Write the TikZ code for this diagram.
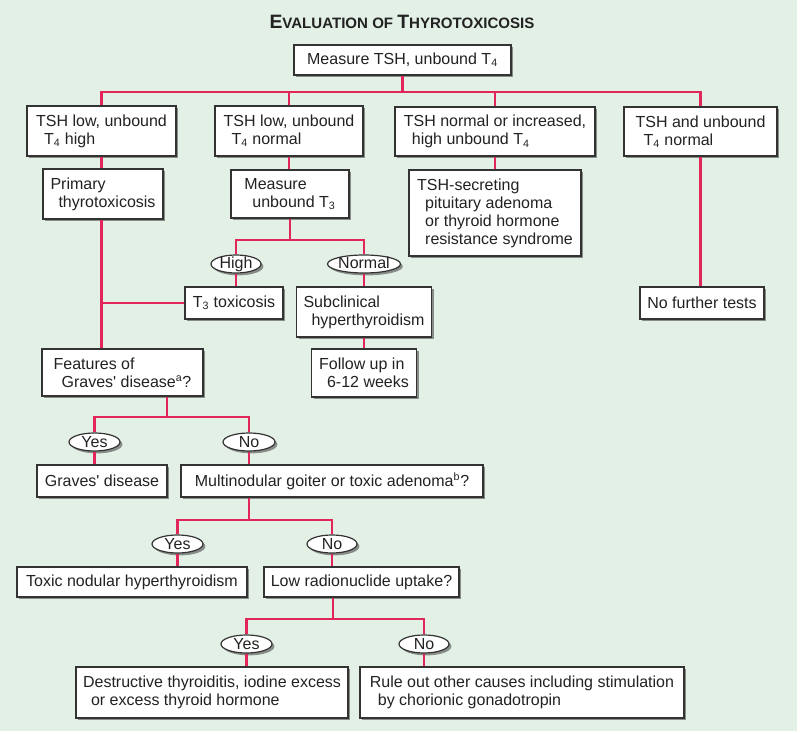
\documentclass[tikz,border=0pt]{standalone}
\usepackage{fontspec}
\setmainfont{Liberation Sans}
\usetikzlibrary{shapes.geometric,shadows,calc}
\definecolor{bg}{HTML}{E2F0E5}
\definecolor{ln}{HTML}{E2265A}
\definecolor{tx}{HTML}{222222}
\definecolor{bd}{HTML}{333333}
\newcommand{\ind}{\hspace*{6pt}}
\newcommand{\apo}{\textquotesingle}
\begin{document}
\begin{tikzpicture}[x=0.75pt,y=-0.75pt,
  font=\fontsize{12}{13.5}\selectfont,
  shd/.style={drop shadow={shadow xshift=1.8pt,shadow yshift=-1.8pt,fill=black!70,opacity=0.6}},
  box/.style={draw=bd,fill=white,line width=0.9pt,text=tx,align=left,inner sep=0pt,shd},
  sz/.style 2 args={minimum width=#1*0.75pt,minimum height=#2*0.75pt},
  ov/.style={ellipse,draw=bd,fill=white,line width=0.9pt,inner sep=0pt,text=tx,
    text height=8.5pt,text depth=1pt,minimum height=18*0.75pt,shd},
  conn/.style={draw=ln,line width=1.6pt}]
\useasboundingbox (0,0) rectangle (800,734);
\fill[white] (0,0) rectangle (800,734);
\fill[bg] (0,0) rectangle (797,731);

\node[text=tx,font=\bfseries] (title) at (402,22)
  {\fontsize{14.5}{15}\selectfont E\fontsize{11.3}{15}\selectfont VALUATION OF \fontsize{14.5}{15}\selectfont T\fontsize{11.3}{15}\selectfont HYROTOXICOSIS};

% nodes
\node[box,sz={217}{30}] (m0) at (402.5,60) {Measure TSH, unbound T\textsubscript{4}};
\node[box,sz={149}{50}] (r1a) at (101.5,131) {TSH low, unbound\\\ind T\textsubscript{4} high};
\node[box,sz={148}{50}] (r1b) at (289,131) {TSH low, unbound\\\ind T\textsubscript{4} normal};
\node[box,sz={200}{49}] (r1c) at (495,131.5) {TSH normal or increased,\\\ind high unbound T\textsubscript{4}};
\node[box,sz={153}{49}] (r1d) at (700.5,131.5) {TSH and unbound\\\ind T\textsubscript{4} normal};

\node[box,sz={120}{50}] (prim) at (103,194) {Primary\\\ind thyrotoxicosis};
\node[box,sz={118}{48}] (meas3) at (290,194) {Measure\\\ind unbound T\textsubscript{3}};
\node[box,sz={172}{86}] (tshsec) at (495,213) {TSH-secreting\\\ind pituitary adenoma\\\ind or thyroid hormone\\\ind resistance syndrome};
\node[box,sz={124}{32}] (nofur) at (702,303) {No further tests};

\node[ov,minimum width=50*0.75pt] (high) at (236,264) {High};
\node[ov,minimum width=68*0.75pt] (normal) at (364,264) {Normal};
\node[box,sz={98}{32}] (t3tox) at (234,303) {T\textsubscript{3} toxicosis};
\node[box,sz={135}{50}] (subcl) at (364,312) {Subclinical\\\ind hyperthyroidism};
\node[box,sz={105}{48}] (follow) at (364,373) {Follow up in\\\ind 6-12 weeks};

\node[box,sz={161}{47}] (feat) at (122.5,372.5) {Features of\\\ind Graves\apo\ disease\textsuperscript{a}?};
\node[ov,minimum width=51*0.75pt] (yes1) at (94.5,442) {Yes};
\node[ov,minimum width=52*0.75pt] (no1) at (249,442) {No};
\node[box,sz={130}{32}] (graves) at (102,481) {Graves\apo\ disease};
\node[box,sz={302}{32}] (multi) at (332,481) {Multinodular goiter or toxic adenoma\textsuperscript{b}?};

\node[ov,minimum width=51*0.75pt] (yes2) at (177.5,544) {Yes};
\node[ov,minimum width=50*0.75pt] (no2) at (332,544) {No};
\node[box,sz={230}{30}] (toxic) at (132,582) {Toxic nodular hyperthyroidism};
\node[box,sz={195}{30}] (low) at (361.5,582) {Low radionuclide uptake?};

\node[ov,minimum width=51*0.75pt] (yes3) at (246.5,644) {Yes};
\node[ov,minimum width=50*0.75pt] (no3) at (424,644) {No};
\node[box,sz={272}{51}] (destr) at (212,692.5) {Destructive thyroiditis, iodine excess\\\ind or excess thyroid hormone};
\node[box,sz={324}{51}] (rule) at (522,692.5) {Rule out other causes including stimulation\\\ind by chorionic gonadotropin};

% junctions
\coordinate (j0) at (402.5,92);
\coordinate (j1) at (290,240);
\coordinate (j2) at (167,417);
\coordinate (j3) at (249,520);
\coordinate (j4) at (333,619);

% connectors
\draw[conn] (m0.south) -- (j0);
\draw[conn] (r1a.north) |- (j0) -| (r1d.north);
\draw[conn] (r1b.north) -- (r1b.north |- j0);
\draw[conn] (r1c.north) -- (r1c.north |- j0);
\draw[conn] (r1a.south) -- (r1a.south |- prim.north);
\draw[conn] (r1b.south) -- (r1b.south |- meas3.north);
\draw[conn] (r1c.south) -- (r1c.south |- tshsec.north);
\draw[conn] (r1d.south) -- (r1d.south |- nofur.north);
\draw[conn] (prim.south -| r1a.south) -- (feat.north -| r1a.south);
\draw[conn] (t3tox.west) -- (t3tox.west -| r1a.south);
\draw[conn] (meas3.south) -- (j1);
\draw[conn] (high.north) |- (j1) -| (normal.north);
\draw[conn] (high.south) -- (high.south |- t3tox.north);
\draw[conn] (normal.south) -- (normal.south |- subcl.north);
\draw[conn] (subcl.south) -- (follow.north);
\draw[conn] (feat.south -| j2) -- (j2);
\draw[conn] (yes1.north) |- (j2) -| (no1.north);
\draw[conn] (yes1.south) -- (yes1.south |- graves.north);
\draw[conn] (no1.south) -- (no1.south |- multi.north);
\draw[conn] (multi.south -| j3) -- (j3);
\draw[conn] (yes2.north) |- (j3) -| (no2.north);
\draw[conn] (yes2.south) -- (yes2.south |- toxic.north);
\draw[conn] (no2.south) -- (no2.south |- low.north);
\draw[conn] (low.south -| j4) -- (j4);
\draw[conn] (yes3.north) |- (j4) -| (no3.north);
\draw[conn] (yes3.south) -- (yes3.south |- destr.north);
\draw[conn] (no3.south) -- (no3.south |- rule.north);
\end{tikzpicture}
\end{document}
